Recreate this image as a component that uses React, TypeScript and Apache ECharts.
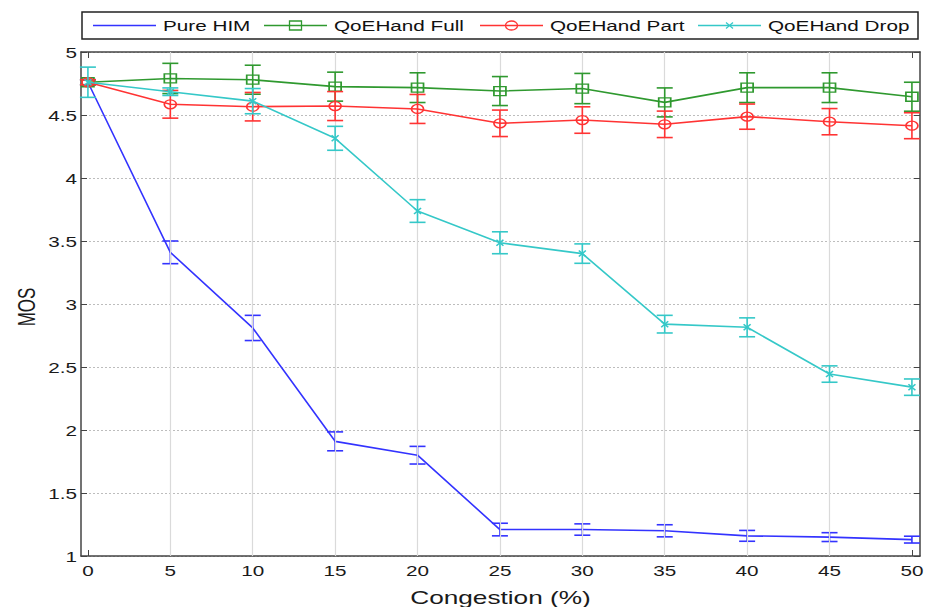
import React, { useEffect, useRef } from 'react';
import * as echarts from 'echarts';

const congestion = [0, 5, 10, 15, 20, 25, 30, 35, 40, 45, 50];
const xTickLabels = ['0', '5', '10', '15', '20', '25', '30', '35', '40', '45', '50'];
const yTicks = [1, 1.5, 2, 2.5, 3, 3.5, 4, 4.5, 5];
const yTickLabels = ['1', '1.5', '2', '2.5', '3', '3.5', '4', '4.5', '5'];

const seriesNames = ['Pure HIM', 'QoEHand Full', 'QoEHand Part', 'QoEHand Drop'];

const pureHIM = [4.76, 3.41, 2.81, 1.91, 1.8, 1.21, 1.21, 1.2, 1.16, 1.15, 1.13];
const pureHIMErr = [0.02, 0.09, 0.1, 0.075, 0.07, 0.05, 0.045, 0.048, 0.043, 0.035, 0.027];

const qoeFull = [4.76, 4.79, 4.78, 4.725, 4.717, 4.69, 4.71, 4.6, 4.717, 4.717, 4.645];
const qoeFullErr = [0.02, 0.12, 0.115, 0.115, 0.118, 0.115, 0.12, 0.115, 0.118, 0.118, 0.115];

const qoePart = [4.76, 4.585, 4.566, 4.571, 4.548, 4.434, 4.46, 4.426, 4.487, 4.447, 4.415];
const qoePartErr = [0.02, 0.11, 0.113, 0.115, 0.115, 0.105, 0.105, 0.105, 0.1, 0.104, 0.103];

const qoeDrop = [4.76, 4.685, 4.61, 4.315, 3.738, 3.486, 3.4, 2.84, 2.815, 2.444, 2.34];
const qoeDropErr = [0.12, 0.03, 0.1, 0.095, 0.09, 0.087, 0.077, 0.07, 0.075, 0.065, 0.065];

const COLORS = ['#3333ff', '#2f992f', '#ff3333', '#35c8c8'];
const FONT = '"Liberation Sans", Arial, Helvetica, sans-serif';
const STRETCH = 1.38;

const SYM_CIRCLE = 'path://M0,5A5,5,0,1,1,10,5A5,5,0,1,1,0,5Z';
const SYM_SQUARE = 'path://M0,0L10,0L10,10L0,10Z';
const SYM_X = 'path://M0,0L10,10M0,10L10,0';

function lineSeries(idx: number, values: number[], symbol: string, size: number[]) {
  return {
    type: 'line',
    name: seriesNames[idx],
    data: congestion.map((x, i) => [x, values[i]]),
    showSymbol: symbol !== 'none',
    symbol,
    symbolSize: size,
    lineStyle: { color: COLORS[idx], width: 1.6 },
    itemStyle: { color: 'rgba(0,0,0,0)', borderColor: COLORS[idx], borderWidth: 1.5 },
    z: 4 + idx,
    silent: true,
  };
}

function errSeries(idx: number, values: number[], errs: number[]) {
  const color = COLORS[idx];
  return {
    type: 'custom',
    name: seriesNames[idx] + ' err',
    data: congestion.map((x, i) => [x, values[i] - errs[i], values[i] + errs[i]]),
    encode: { x: 0, y: [1, 2] },
    z: 4 + idx,
    silent: true,
    renderItem: (params: any, api: any) => {
      const lo = api.coord([api.value(0), api.value(1)]);
      const hi = api.coord([api.value(0), api.value(2)]);
      const hw = 8;
      const style = { stroke: color, lineWidth: 1.6, fill: 'none' };
      return {
        type: 'group',
        children: [
          { type: 'line', shape: { x1: lo[0], y1: lo[1], x2: hi[0], y2: hi[1] }, style },
          { type: 'line', shape: { x1: lo[0] - hw, y1: lo[1], x2: lo[0] + hw, y2: lo[1] }, style },
          { type: 'line', shape: { x1: hi[0] - hw, y1: hi[1], x2: hi[0] + hw, y2: hi[1] }, style },
        ],
      };
    },
  };
}

export default function App() {
  const ref = useRef<HTMLDivElement>(null);

  useEffect(() => {
    if (!ref.current) return;
    const chart = echarts.init(ref.current, null, { renderer: 'svg' });
    const axisLineStyle = { color: '#444', width: 1.5 };
    const xBase = {
      type: 'value',
      min: -0.42,
      max: 50.49,
      axisLine: { show: true, onZero: false, lineStyle: axisLineStyle },
      axisTick: { show: true, inside: true, length: 6, customValues: congestion, lineStyle: { color: '#444' } },
      axisLabel: { show: false, customValues: congestion },
      splitLine: { show: false },
    };
    const yBase = {
      type: 'value',
      min: 1,
      max: 5,
      interval: 0.5,
      axisLine: { show: true, onZero: false, lineStyle: axisLineStyle },
      axisTick: { show: true, inside: true, length: 6, lineStyle: { color: '#444' } },
      axisLabel: { show: false },
    };
    const option: any = {
      animation: false,
      backgroundColor: '#fff',
      grid: { left: 81, right: 11, top: 52, bottom: 51, containLabel: false },
      xAxis: [
        { ...xBase, position: 'bottom' },
        { ...xBase, position: 'top' },
      ],
      yAxis: [
        {
          ...yBase,
          position: 'left',
          splitLine: { show: true, lineStyle: { color: '#bdbdbd', type: [2, 2], width: 1 } },
        },
        { ...yBase, position: 'right', splitLine: { show: false } },
      ],
      series: [
        {
          type: 'line',
          name: 'grid-x',
          data: [],
          silent: true,
          z: 1,
          markLine: {
            silent: true,
            symbol: 'none',
            label: { show: false },
            lineStyle: { color: '#dadada', type: 'solid', width: 1.2 },
            data: congestion.slice(1, congestion.length - 1).map((v) => ({ xAxis: v })),
          },
        },
        errSeries(0, pureHIM, pureHIMErr),
        lineSeries(0, pureHIM, 'none', [0, 0]),
        errSeries(1, qoeFull, qoeFullErr),
        lineSeries(1, qoeFull, SYM_SQUARE, [12, 9]),
        errSeries(2, qoePart, qoePartErr),
        lineSeries(2, qoePart, SYM_CIRCLE, [12, 9]),
        errSeries(3, qoeDrop, qoeDropErr),
        lineSeries(3, qoeDrop, SYM_X, [7, 6]),
      ],
    };
    chart.setOption(option);

    // Tick labels, axis names and legend placed through the chart's own scales
    const graphics: any[] = [];
    const leftPx = chart.convertToPixel({ xAxisIndex: 0 }, -0.42) as number;
    const rightPx = chart.convertToPixel({ xAxisIndex: 0 }, 50.49) as number;
    const bottomPx = chart.convertToPixel({ yAxisIndex: 0 }, 1) as number;
    const topPx = chart.convertToPixel({ yAxisIndex: 0 }, 5) as number;

    congestion.forEach((v, i) => {
      const px = chart.convertToPixel({ xAxisIndex: 0 }, v) as number;
      graphics.push({
        type: 'text',
        x: px,
        y: bottomPx + 15,
        scaleX: STRETCH,
        style: { text: xTickLabels[i], font: `15px ${FONT}`, fill: '#1a1a1a', align: 'center', verticalAlign: 'middle' },
      });
    });
    yTicks.forEach((v, i) => {
      const py = chart.convertToPixel({ yAxisIndex: 0 }, v) as number;
      graphics.push({
        type: 'text',
        x: leftPx - 4,
        y: py + 1,
        scaleX: STRETCH,
        style: { text: yTickLabels[i], font: `15px ${FONT}`, fill: '#1a1a1a', align: 'right', verticalAlign: 'middle' },
      });
    });
    graphics.push({
      type: 'text',
      x: (leftPx + rightPx) / 2,
      y: bottomPx + 41,
      scaleX: STRETCH,
      style: { text: 'Congestion (%)', font: `19px ${FONT}`, fill: '#1a1a1a', align: 'center', verticalAlign: 'middle' },
    });
    graphics.push({
      type: 'text',
      x: 26,
      y: (topPx + bottomPx) / 2 + 3,
      rotation: Math.PI / 2,
      scaleY: 1.45,
      style: { text: 'MOS', font: `17px ${FONT}`, fill: '#1a1a1a', align: 'center', verticalAlign: 'middle' },
    });

    // Legend box
    const legTop = 12;
    const legH = 27;
    const legY = legTop + legH / 2;
    graphics.push({
      type: 'rect',
      shape: { x: leftPx + 1, y: legTop, width: rightPx - leftPx - 3, height: legH },
      style: { fill: '#fff', stroke: '#222', lineWidth: 1.5 },
      z: 10,
    });
    const itemStarts = [93, 264, 480, 698];
    const lineLen = 63;
    seriesNames.forEach((name, i) => {
      const x0 = itemStarts[i];
      graphics.push({
        type: 'line',
        shape: { x1: x0, y1: legY, x2: x0 + lineLen, y2: legY },
        style: { stroke: COLORS[i], lineWidth: 1.6 },
        z: 11,
      });
      const cx = x0 + lineLen / 2;
      if (i === 1) {
        graphics.push({
          type: 'rect',
          shape: { x: cx - 6, y: legY - 4.5, width: 12, height: 9 },
          style: { fill: 'none', stroke: COLORS[i], lineWidth: 1.3 },
          z: 12,
        });
      } else if (i === 2) {
        graphics.push({
          type: 'ellipse',
          shape: { cx, cy: legY, rx: 6, ry: 4.5 },
          style: { fill: 'none', stroke: COLORS[i], lineWidth: 1.3 },
          z: 12,
        });
      } else if (i === 3) {
        graphics.push({
          type: 'line',
          shape: { x1: cx - 3.5, y1: legY - 3, x2: cx + 3.5, y2: legY + 3 },
          style: { stroke: COLORS[i], lineWidth: 1.2 },
          z: 12,
        });
        graphics.push({
          type: 'line',
          shape: { x1: cx - 3.5, y1: legY + 3, x2: cx + 3.5, y2: legY - 3 },
          style: { stroke: COLORS[i], lineWidth: 1.2 },
          z: 12,
        });
      }
      graphics.push({
        type: 'text',
        x: x0 + lineLen + 7,
        y: legY + 1,
        scaleX: STRETCH,
        style: { text: name, font: `15px ${FONT}`, fill: '#111', align: 'left', verticalAlign: 'middle' },
        z: 12,
      });
    });

    chart.setOption({ graphic: graphics });

    return () => {
      chart.dispose();
    };
  }, []);

  return (
    <div
      ref={ref}
      style={{ position: 'fixed', left: 0, top: 0, width: 931, height: 607, background: '#fff' }}
    />
  );
}
